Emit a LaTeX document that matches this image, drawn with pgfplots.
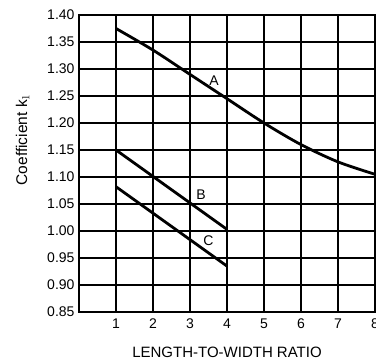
\documentclass[border=0pt]{standalone}
\usepackage{pgfplots}
\pgfplotsset{compat=1.18}
\usepackage{fontspec}
\setmainfont{Liberation Sans}
\begin{document}
\begin{tikzpicture}
\begin{axis}[
  scale only axis,
  width=296pt, height=297pt,
  xmin=0, xmax=8, ymin=0.85, ymax=1.40,
  xtick={1,2,...,8},
  ytick={0.85,0.90,...,1.401},
  yticklabel style={/pgf/number format/fixed, /pgf/number format/fixed zerofill, /pgf/number format/precision=2},
  /pgf/number format/assume math mode=true,
  tick label style={font=\fontsize{14}{16}\selectfont},
  grid=major,
  major grid style={black, line width=1.4pt},
  axis line style={black, line width=1.6pt},
  major tick length=0pt,
  xticklabel style={yshift=-3pt},
  yticklabel style={xshift=-1pt},
  xlabel={LENGTH-TO-WIDTH RATIO},
  xlabel style={font=\fontsize{15}{17}\selectfont, yshift=-12pt},
  ylabel={Coefficient k$_1$},
  ylabel style={font=\fontsize{15.5}{17}\selectfont, at={(ticklabel cs:0.58)}, yshift=11pt},
  clip=false,
]
\addplot[black, line width=2.8pt, smooth] coordinates {
 (1,1.375) (2,1.335) (3,1.290) (4,1.245) (5,1.200) (6,1.160) (7,1.128) (8,1.105)};
\addplot[black, line width=2.8pt] coordinates {(1,1.150) (4,1.003)};
\addplot[black, line width=2.8pt] coordinates {(1,1.082) (4,0.935)};
\node[font=\fontsize{14}{16}\selectfont] at (axis cs:3.65,1.279) {A};
\node[font=\fontsize{14}{16}\selectfont] at (axis cs:3.3,1.068) {B};
\node[font=\fontsize{14}{16}\selectfont] at (axis cs:3.5,0.982) {C};
\coordinate (sw) at (rel axis cs:0,0);
\coordinate (ne) at (rel axis cs:1,1);
\end{axis}
\pgfresetboundingbox
\path[use as bounding box] ([shift={(-79pt,-49pt)}]sw) rectangle ([shift={(1pt,15pt)}]ne);
\end{tikzpicture}
\end{document}
